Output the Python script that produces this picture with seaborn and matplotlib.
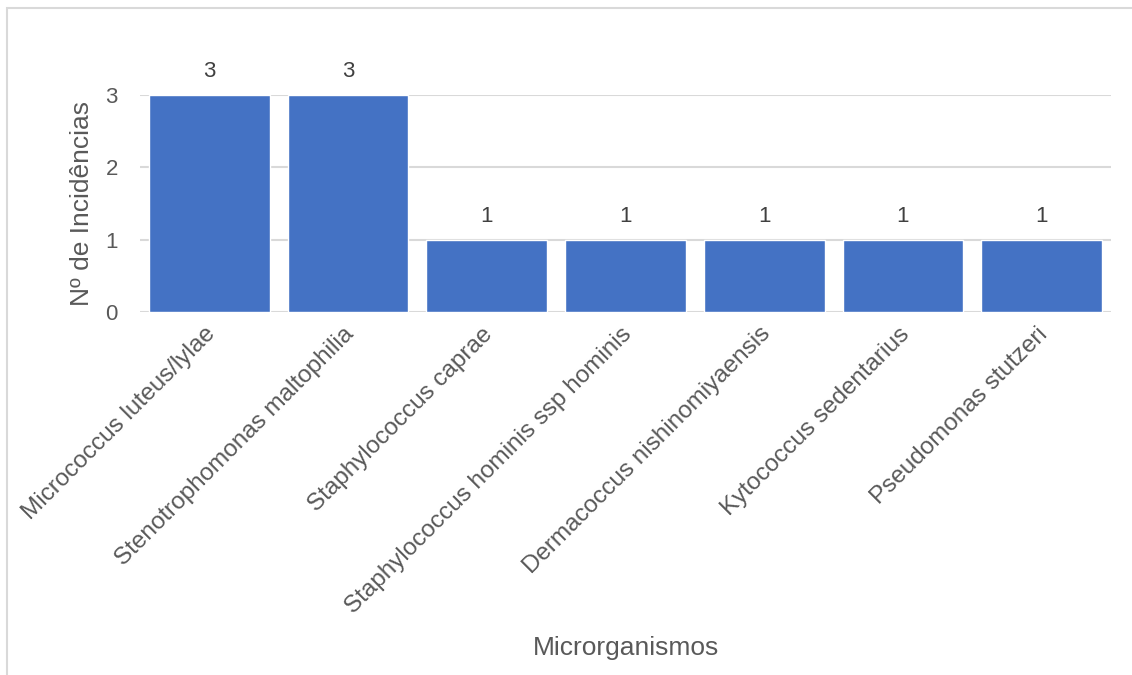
import matplotlib
matplotlib.use("Agg")
import matplotlib.pyplot as plt
import matplotlib.transforms as mtransforms
import seaborn as sns
import pandas as pd
from matplotlib.patches import Rectangle

organisms = [
    "Micrococcus luteus/lylae",
    "Stenotrophomonas maltophilia",
    "Staphylococcus caprae",
    "Staphylococcus hominis ssp hominis",
    "Dermacoccus nishinomiyaensis",
    "Kytococcus sedentarius",
    "Pseudomonas stutzeri",
]
incidences = [3, 3, 1, 1, 1, 1, 1]
y_ticks = [0, 1, 2, 3]

sns.set_theme(style="white")
plt.rcParams["font.family"] = ["Liberation Sans", "DejaVu Sans"]

df = pd.DataFrame({"Microrganismos": organisms, "Incidencias": incidences})

fig = plt.figure(figsize=(11.32, 6.75), dpi=100)
ax = fig.add_axes([0.1237, 0.5378, 0.8578, 0.3215])

sns.barplot(data=df, x="Microrganismos", y="Incidencias", color="#4472C4",
            saturation=1, width=0.87, ax=ax, zorder=3)

ax.set_ylim(0, 3)
ax.set_xlim(-0.5, len(organisms) - 0.5)
ax.set_yticks(y_ticks)
for y in y_ticks:
    ax.axhline(y, color="#d9d9d9", lw=1.5, zorder=1)

for s in ax.spines.values():
    s.set_visible(False)

ax.tick_params(axis="y", length=0, pad=16, labelsize=16, labelcolor="#595959")
ax.tick_params(axis="x", length=0, pad=0, labelsize=17.5, labelcolor="#595959")
ax.set_xticks(range(len(organisms)))
ax.set_xticklabels(organisms, rotation=45, ha="right", va="top",
                   rotation_mode="anchor")
offset = mtransforms.ScaledTranslation(-5 / 100, -11 / 100, fig.dpi_scale_trans)
for lbl in ax.get_xticklabels():
    lbl.set_transform(lbl.get_transform() + offset)

ax.set_ylabel("Nº de Incidências", fontsize=19, color="#595959", labelpad=8)

for i, v in enumerate(incidences):
    ax.annotate(str(v), (i, v), xytext=(0, 9), textcoords="offset points",
                ha="center", va="bottom", fontsize=16, color="#404040")

# x-axis title sits near the bottom edge of the figure
ax.set_xlabel("Microrganismos", fontsize=19, color="#595959", va="bottom")
ax.xaxis.set_label_coords(0.5, (312 - 660) / 217)

fig.patches.append(Rectangle((6.5 / 1132, -0.05), 1.2, 1 - 7.5 / 675 + 0.05,
                             transform=fig.transFigure, fill=False,
                             edgecolor="#d9d9d9", lw=1.5, zorder=0))

fig.savefig("out.png", dpi=100, facecolor="white")
